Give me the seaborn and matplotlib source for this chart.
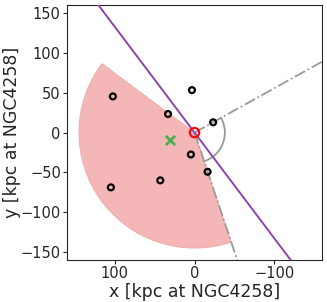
import numpy as np
import pandas as pd
import matplotlib
matplotlib.use("Agg")
import matplotlib.pyplot as plt
from matplotlib.patches import Wedge
import seaborn as sns

# satellites positions (kpc at NGC4258)
sat_x = [102.5, 3.3, 33.3, -23.3, 4.6, -16.3, 43.0, 105.0]
sat_y = [45.4, 53.3, 23.3, 12.9, -27.5, -49.2, -60.0, -68.8]

# centroid and host
centroid = (31.0, -9.2)
host = (0.0, 0.0)

# geometry (degrees, radius in kpc)
wedge_theta = (-108.5, 36.7)
wedge_r = 145
ray_angles = [150.9, -108.5]
arc_r = 38
axis_slope = 1.327

sns.set_style("ticks")
plt.rcParams["font.family"] = ["DejaVu Sans"]

fig = plt.figure(figsize=(3.27, 3.02), dpi=100)
ax = fig.add_axes([0.205, 0.139, 0.78, 0.844])

ax.add_patch(Wedge(host, wedge_r, wedge_theta[0], wedge_theta[1],
                   facecolor="#f4b6b6", edgecolor="#f0a8a8", lw=0.6, zorder=1))

for a in ray_angles:
    t = np.deg2rad(a)
    ax.plot([0, 300 * np.cos(t)], [0, 300 * np.sin(t)], ls="-.", color="#999999", lw=1.3, zorder=2)

t = np.deg2rad(np.linspace(ray_angles[0], 360 + ray_angles[1], 100))
ax.plot(arc_r * np.cos(t), arc_r * np.sin(t), color="#999999", lw=1.3, zorder=2)

ax.axline(host, slope=axis_slope, color="#8e44ad", lw=1.4, zorder=3)

df = pd.DataFrame({"x": sat_x, "y": sat_y})
sns.scatterplot(data=df, x="x", y="y", ax=ax, marker="o", s=18,
                facecolor="none", edgecolor="black", linewidth=1.6, zorder=4)

ax.scatter([centroid[0]], [centroid[1]], marker="x", s=45, color="#4caf50", linewidths=2, zorder=5)
ax.scatter([host[0]], [host[1]], marker="o", s=45, facecolor="none", edgecolor="red", linewidths=1.5, zorder=5)

ax.set_xlim(160, -160)
ax.set_ylim(-160, 160)
ax.set_xticks([100, 0, -100])
ax.set_yticks([-150, -100, -50, 0, 50, 100, 150])
ax.tick_params(labelsize=10.5, length=3, pad=1.5)
ax.set_xlabel("x [kpc at NGC4258]", fontsize=12.5, labelpad=1)
ax.set_ylabel("y [kpc at NGC4258]", fontsize=12.5, labelpad=0)

fig.savefig("out.png", dpi=100)
